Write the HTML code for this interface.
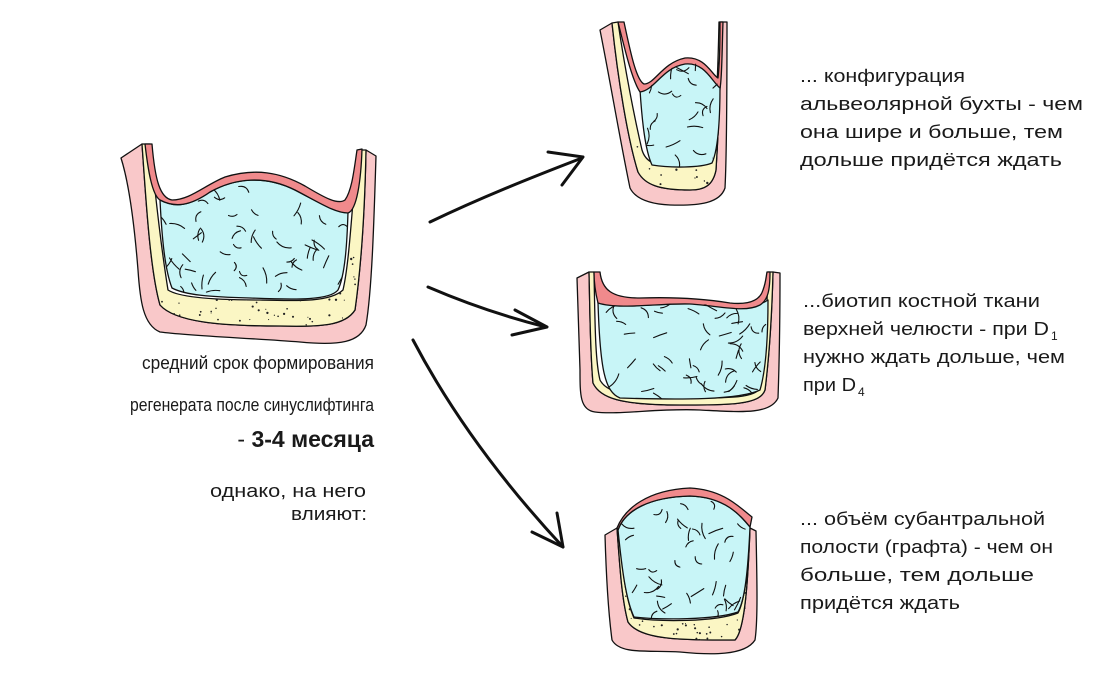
<!DOCTYPE html>
<html><head><meta charset="utf-8"><style>
html,body{margin:0;padding:0;background:#fff;}
svg{display:block}
text{font-family:"Liberation Sans",sans-serif;fill:#1a1a1a;}
</style></head><body>
<svg id="s" width="1100" height="679" viewBox="0 0 1100 679" xmlns="http://www.w3.org/2000/svg">
<defs>
<clipPath id="c1"><path d="M160,200 C175,208 190,206 210,192 C235,178 265,175 295,190 C320,203 335,212 348,212 C347,245 345,275 338,290 C330,300 300,300 250,298 C210,297 185,295 172,288 C165,270 162,240 160,200Z"/></clipPath>
<clipPath id="c2"><path d="M640,90 C655,90 660,68 685,63 C705,60 712,80 720,86 C720,120 718,150 712,163 C700,168 670,168 652,165 C645,150 642,120 640,90Z"/></clipPath>
<clipPath id="c3"><path d="M598,302 C620,310 660,303 690,303 C720,305 750,312 768,300 C768,340 766,370 760,390 C740,400 680,400 620,398 C605,392 600,370 598,302Z"/></clipPath>
<clipPath id="c4"><path d="M618,530 C625,510 650,497 690,496 C725,497 740,515 750,527 C748,570 745,600 738,612 C715,620 660,620 634,617 C626,600 622,570 618,530Z"/></clipPath>
<clipPath id="y1"><path d="M142,144 L150,144 C155,190 160,240 168,290 C180,298 220,300 260,300 C300,301 330,302 343,290 C350,260 352,200 358,150 L366,150 C365,200 362,260 355,310 C345,326 320,327 280,326 C220,326 175,322 160,305 C150,270 146,200 142,144Z"/></clipPath>
<clipPath id="y2"><path d="M612,23 L618,22 C625,70 635,120 642,150 C646,163 655,166 680,166 C700,166 710,165 712,160 C716,120 718,70 719,22 L722,22 C721,70 719,120 716,170 C713,185 705,190 690,190 C660,190 645,185 638,172 C628,140 618,80 612,23Z"/></clipPath>
<clipPath id="y4"><path d="M619,528 C622,570 626,600 634,618 C660,622 715,622 738,613 C745,600 748,570 750,528 L750,560 C748,600 745,630 735,640 C680,640 640,640 628,622 C622,600 620,570 619,528Z"/></clipPath>
</defs>
<g stroke="#111" stroke-width="1.3" stroke-linejoin="round">
<path fill="#f9c8c9" d="M121,158 L142,144 C146,200 150,270 160,305 C175,322 220,326 280,326 C320,327 345,326 355,310 C362,260 365,200 366,150 L376,156 C374,220 372,290 366,325 C360,342 340,346 300,342 C250,338 190,336 160,332 C143,325 140,300 138,270 C134,220 128,180 121,158Z"/>
<path fill="#fbf6c4" d="M142,144 L150,144 C155,190 160,240 168,290 C180,298 220,300 260,300 C300,301 330,302 343,290 C350,260 352,200 358,150 L366,150 C365,200 362,260 355,310 C345,326 320,327 280,326 C220,326 175,322 160,305 C150,270 146,200 142,144Z"/>
<path fill="#c8f5f7" d="M160,200 C175,208 190,206 210,192 C235,178 265,175 295,190 C320,203 335,212 348,212 C347,245 345,275 338,290 C330,300 300,300 250,298 C210,297 185,295 172,288 C165,270 162,240 160,200Z"/>
<path fill="#f08a8c" d="M145,144 L152,144 C155,180 160,198 172,200 C190,200 205,185 225,177 C255,168 280,172 305,186 C325,198 338,205 345,200 C352,190 354,170 357,150 L362,149 C361,180 357,210 348,213 C335,213 320,203 295,190 C265,175 235,178 210,192 C190,206 175,208 160,200 C152,195 148,170 145,144Z"/>
<path fill="#f9c8c9" d="M600,30 L612,23 C618,80 628,140 638,172 C645,185 660,190 690,190 C705,190 713,185 716,170 C719,120 721,70 722,22 L727,22 C727,80 727,150 725,188 C720,203 700,206 670,205 C648,204 635,198 630,188 C620,140 610,80 600,30Z"/>
<path fill="#fbf6c4" d="M612,23 L618,22 C625,70 635,120 642,150 C646,163 655,166 680,166 C700,166 710,165 712,160 C716,120 718,70 719,22 L722,22 C721,70 719,120 716,170 C713,185 705,190 690,190 C660,190 645,185 638,172 C628,140 618,80 612,23Z"/>
<path fill="#c8f5f7" d="M640,90 C655,90 660,68 685,63 C705,60 712,80 720,86 C720,120 718,150 712,163 C700,168 670,168 652,165 C645,150 642,120 640,90Z"/>
<path fill="#f08a8c" d="M618,22 L624,22 C630,50 636,80 644,84 C655,84 662,63 685,58 C705,56 712,75 718,78 C720,60 720,40 720,22 L723,22 C722,50 722,80 720,88 C712,82 705,62 685,64 C662,68 655,90 640,92 C632,80 625,50 618,22Z"/>
<path fill="#f9c8c9" d="M577,278 L589,272 C590,310 590,350 593,383 C600,398 620,405 680,405 C730,405 760,405 765,390 C770,350 772,310 773,272 L780,273 C780,320 779,370 778,398 C770,415 740,412 700,410 C660,408 620,415 595,412 C580,410 580,395 580,370 C579,340 578,310 577,278Z"/>
<path fill="#fbf6c4" d="M589,272 L594,272 C595,320 595,360 600,380 C608,396 640,398 690,398 C730,398 755,398 760,388 C765,350 767,310 768,272 L773,272 C772,310 770,350 765,390 C760,405 730,405 680,405 C620,405 600,398 593,383 C590,350 590,310 589,272Z"/>
<path fill="#c8f5f7" d="M598,302 C620,310 660,303 690,303 C720,305 750,312 768,300 C768,340 766,370 760,390 C740,400 680,400 620,398 C605,392 600,370 598,302Z"/>
<path fill="#f08a8c" d="M594,272 L600,272 C602,290 612,298 640,298 C670,297 700,298 730,303 C750,305 760,300 763,290 C766,282 766,277 767,272 L770,272 C770,290 768,300 760,305 C745,313 720,306 690,304 C660,303 620,310 598,303 C596,295 594,285 594,272Z"/>
<path fill="#f9c8c9" d="M605,535 L617,528 C620,570 622,600 628,622 C640,640 680,640 735,640 C745,630 748,580 750,528 L756,531 C757,580 758,620 755,640 C745,656 710,655 680,652 C650,650 620,655 612,640 C608,610 606,570 605,535Z"/>
<path fill="#fbf6c4" d="M617,528 L619,528 C622,570 626,600 634,618 C660,622 715,622 738,613 C745,600 748,570 750,528 C748,580 745,630 735,640 C680,640 640,640 628,622 C622,600 620,570 617,528Z"/>
<path fill="#c8f5f7" d="M618,530 C625,510 650,497 690,496 C725,497 740,515 750,527 C748,570 745,600 738,612 C715,620 660,620 634,617 C626,600 622,570 618,530Z"/>
<path fill="#f08a8c" d="M617,528 C625,508 648,490 690,488 C725,490 740,508 752,517 L750,527 C740,515 725,497 690,496 C650,497 625,510 618,530Z"/>
</g>
<g id="sq" fill="none" stroke="#111" stroke-width="1.1" stroke-linecap="round"></g>
<g id="dt" fill="#222"></g>
<g fill="none" stroke="#111" stroke-width="3" stroke-linecap="round" stroke-linejoin="round">
<path d="M430,222 C480,198 530,178 582,158"/><path d="M548,152 L583,157 L562,185"/>
<path d="M428,287 C470,305 510,318 546,327"/><path d="M515,310 L547,327 L512,335"/>
<path d="M413,340 C455,420 510,490 563,547"/><path d="M532,532 L563,547 L557,513"/>
</g>
<g font-size="18" text-anchor="end">
<text x="374" y="369" textLength="232" lengthAdjust="spacingAndGlyphs">средний срок формирования</text>
<text x="374" y="411" textLength="244" lengthAdjust="spacingAndGlyphs">регенерата после синуслифтинга</text>
<text x="374" y="447" font-size="23"><tspan>- </tspan><tspan font-weight="bold">3-4 месяца</tspan></text>
<text x="366" y="497" textLength="156" lengthAdjust="spacingAndGlyphs">однако, на него</text>
<text x="367" y="520" textLength="76" lengthAdjust="spacingAndGlyphs">влияют:</text>
</g>
<g font-size="18">
<text x="800" y="82" textLength="165" lengthAdjust="spacingAndGlyphs">... конфигурация</text>
<text x="800" y="110" textLength="283" lengthAdjust="spacingAndGlyphs">альвеолярной бухты - чем</text>
<text x="800" y="138" textLength="263" lengthAdjust="spacingAndGlyphs">она шире и больше, тем</text>
<text x="800" y="166" textLength="262" lengthAdjust="spacingAndGlyphs">дольше придётся ждать</text>
<text x="803" y="307" textLength="237" lengthAdjust="spacingAndGlyphs">...биотип костной ткани</text>
<text x="803" y="335" textLength="246" lengthAdjust="spacingAndGlyphs">верхней челюсти - при D</text>
<text x="1051" y="340" font-size="12">1</text>
<text x="803" y="363" textLength="262" lengthAdjust="spacingAndGlyphs">нужно ждать дольше, чем</text>
<text x="803" y="391" textLength="53" lengthAdjust="spacingAndGlyphs">при D</text>
<text x="858" y="396" font-size="12">4</text>
<text x="800" y="525" textLength="245" lengthAdjust="spacingAndGlyphs">... объём субантральной</text>
<text x="800" y="553" textLength="253" lengthAdjust="spacingAndGlyphs">полости (графта) - чем он</text>
<text x="800" y="581" textLength="234" lengthAdjust="spacingAndGlyphs">больше, тем дольше</text>
<text x="800" y="609" textLength="160" lengthAdjust="spacingAndGlyphs">придётся ждать</text>
</g>
</svg>
<script>
(function(){
var ns="http://www.w3.org/2000/svg",g=document.getElementById('sq'),dt=document.getElementById('dt');
var seed=11;function r(){seed=(seed*9301+49297)%233280;return seed/233280;}
var figs=[["c1",158,175,192,125,55],["c2",640,60,82,108,22],["c3",598,298,172,102,48],["c4",618,492,134,128,42]];
figs.forEach(function(f){
 var gg=document.createElementNS(ns,'g');gg.setAttribute('clip-path','url(#'+f[0]+')');
 for(var i=0;i<f[5];i++){
  var x=f[1]+6+r()*(f[3]-12),y=f[2]+6+r()*(f[4]-12),a=r()*6.28,l=8+r()*8;
  var x2=x+Math.cos(a)*l,y2=y+Math.sin(a)*l,mx=(x+x2)/2,my=(y+y2)/2,s=(r()-0.5)*10;
  var cx=mx-Math.sin(a)*s,cy=my+Math.cos(a)*s;
  var p=document.createElementNS(ns,'path');
  p.setAttribute('d','M'+x.toFixed(1)+','+y.toFixed(1)+' Q'+cx.toFixed(1)+','+cy.toFixed(1)+' '+x2.toFixed(1)+','+y2.toFixed(1));
  gg.appendChild(p);
 }
 g.appendChild(gg);
});
var ys=[["y1",140,250,240,80,160],["y2",610,140,115,55,45],["y4",615,590,140,55,90]];
ys.forEach(function(f){
 var gg=document.createElementNS(ns,'g');gg.setAttribute('clip-path','url(#'+f[0]+')');
 for(var i=0;i<f[5];i++){
  var c=document.createElementNS(ns,'circle');
  c.setAttribute('cx',(f[1]+r()*f[3]).toFixed(1));c.setAttribute('cy',(f[2]+r()*f[4]).toFixed(1));c.setAttribute('r',(0.5+r()*0.7).toFixed(2));
  gg.appendChild(c);
 }
 dt.appendChild(gg);
});
})();
</script>
</body></html>
